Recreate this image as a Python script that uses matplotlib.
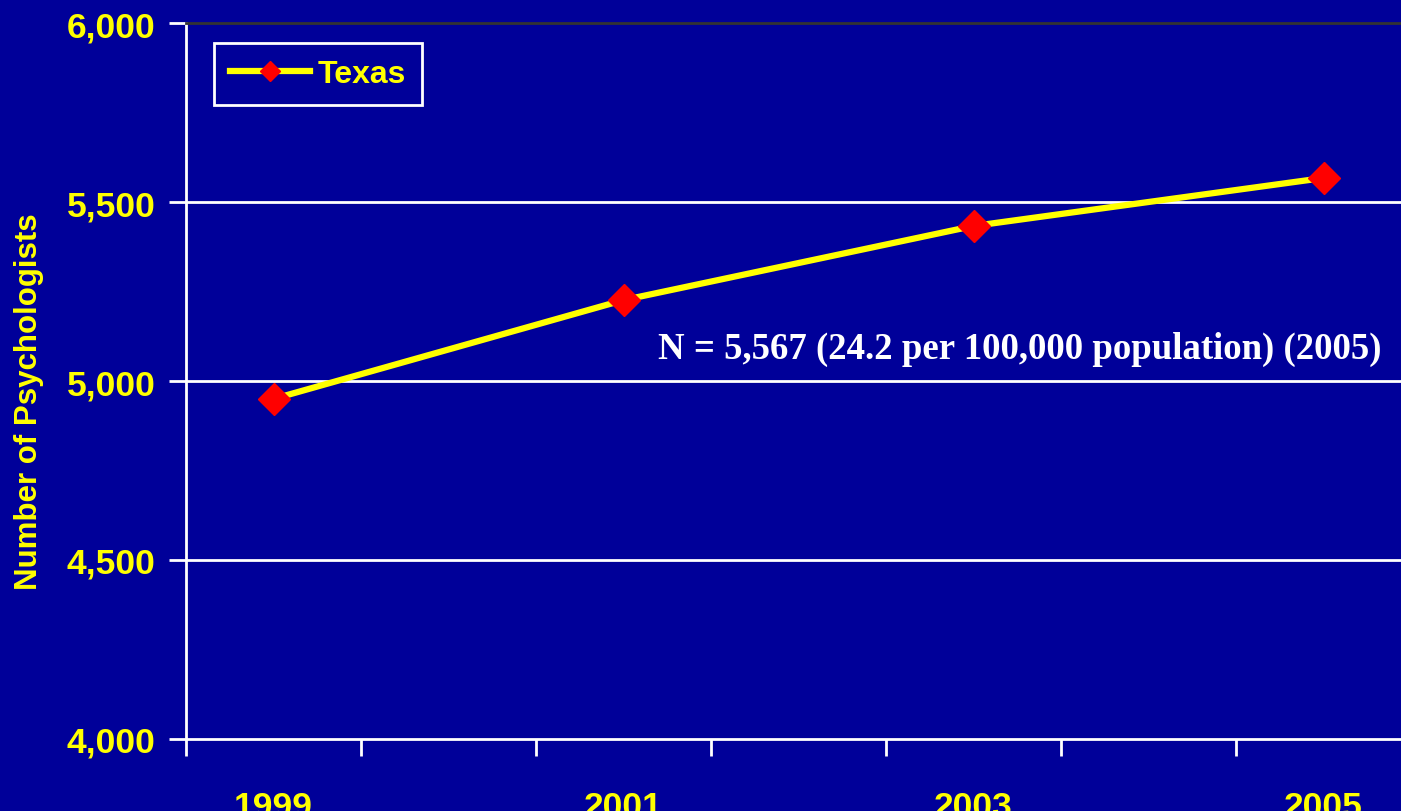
import matplotlib
matplotlib.use('Agg')
from matplotlib import pyplot as plt

# Texas psychologists by year
years = [1999, 2001, 2003, 2005]
psychologists = [4950, 5226, 5433, 5567]
year_labels = ['1999', '2001', '2003', '2005']
y_ticks = [4000, 4500, 5000, 5500, 6000]
note = 'N = 5,567 (24.2 per 100,000 population) (2005)'

bg = '#000099'
yellow = '#FFFF00'

fig = plt.figure(figsize=(14.01, 8.12), dpi=100, facecolor=bg)
ax = fig.add_axes([186 / 1401, 72 / 812, 1225 / 1401, 716 / 812])
ax.set_facecolor(bg)

ax.set_xlim(1998.5, 2005.5)
ax.set_ylim(4000, 6000)

for v in y_ticks[1:-1]:
    ax.axhline(v, color='white', lw=2, zorder=1)

ax.plot(years, psychologists, color=yellow, lw=4.5, marker='D', ms=16,
        mfc='red', mec='red', label='Texas', zorder=3)

# category boundaries get tick marks, year labels sit between them
ax.set_xticks([1998.5 + i for i in range(8)])
ax.set_xticklabels([])
ax.set_xticks(years, minor=True)
ax.set_xticklabels(year_labels, minor=True)
ax.tick_params(axis='x', which='major', length=12, width=2, color='white', direction='out')
ax.tick_params(axis='x', which='minor', length=0, pad=37)

ax.set_yticks(y_ticks)
ax.set_yticklabels(['{:,}'.format(v) for v in y_ticks])
ax.tick_params(axis='y', length=12, width=2, color='white', direction='out', pad=10)

for lab in ax.get_xticklabels(minor=True) + ax.get_yticklabels():
    lab.set_fontfamily('Liberation Sans')
    lab.set_fontweight('bold')
    lab.set_fontsize(25.5)
    lab.set_color(yellow)

for side in ['left', 'bottom']:
    ax.spines[side].set_color('white')
    ax.spines[side].set_linewidth(2)
ax.spines['top'].set_color('#333333')
ax.spines['top'].set_linewidth(2)
ax.spines['right'].set_visible(False)

fig.text(29 / 1401, 1 - 402 / 812, 'Number of Psychologists', rotation=90,
         ha='center', va='center', color=yellow, fontsize=22.5,
         fontfamily='Liberation Sans', fontweight='bold')

ax.text(2005.33, 5090, note, ha='right', va='center', color='white',
        fontsize=26.5, fontfamily='Liberation Serif', fontweight='bold', zorder=4)

leg = ax.legend(loc='upper left', bbox_to_anchor=(28 / 1225, 1 - 20 / 716),
                frameon=True, fancybox=False, facecolor=bg, edgecolor='white',
                framealpha=1, handlelength=2.5, handletextpad=0.25,
                borderpad=0.5, borderaxespad=0, markerscale=0.65,
                prop={'family': 'Liberation Sans', 'weight': 'bold', 'size': 23})
leg.get_frame().set_linewidth(2)
for t in leg.get_texts():
    t.set_color(yellow)

fig.savefig('out.png', dpi=100, facecolor=bg)
